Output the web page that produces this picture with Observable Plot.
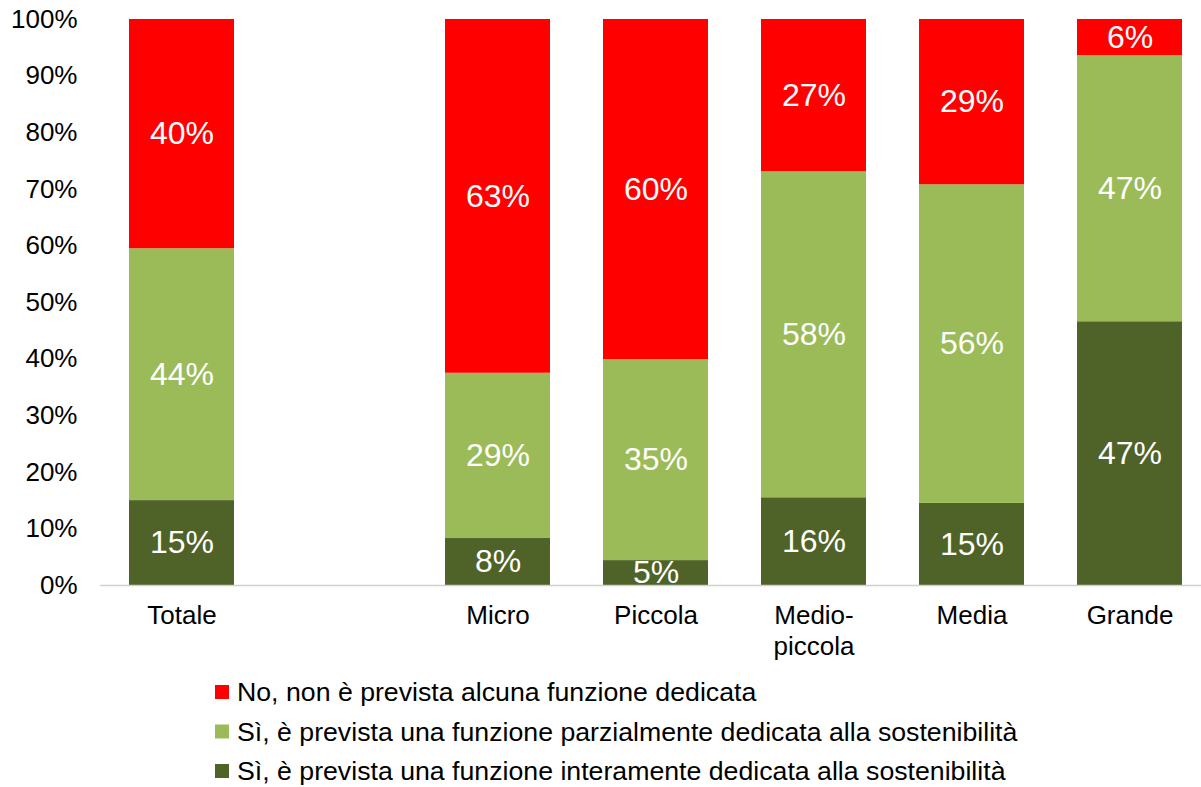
<!DOCTYPE html>
<html>
<head>
<meta charset="utf-8">
<script src="https://cdn.jsdelivr.net/npm/d3@7"></script>
<script src="https://cdn.jsdelivr.net/npm/@observablehq/plot@0.6"></script>
<style>
  html, body { margin: 0; padding: 0; background: #fff; }
  body { width: 1201px; height: 787px; overflow: hidden; font-family: "Liberation Sans", Arial, sans-serif; }
  #chart svg { display: block; }
</style>
</head>
<body>
<div id="chart"></div>
<script>
const categories = ["Totale", "Micro", "Piccola", "Medio-piccola", "Media", "Grande"];
const gapSlot = " ";
const seriesNames = [
  "Sì, è prevista una funzione interamente dedicata alla sostenibilità",
  "Sì, è prevista una funzione parzialmente dedicata alla sostenibilità",
  "No, non è prevista alcuna funzione dedicata"
];
const seriesColors = ["#4F6228", "#9BBB59", "#FF0000"];
const darkValues = [15.0, 8.3, 4.4, 15.5, 14.5, 46.6];
const lightValues = [44.5, 29.2, 35.5, 57.6, 56.3, 47.0];
const redValues = [40.5, 62.5, 60.1, 26.9, 29.2, 6.4];
const darkLabels = [15, 8, 5, 16, 15, 47];
const lightLabels = [44, 29, 35, 58, 56, 47];
const redLabels = [40, 63, 60, 27, 29, 6];
const yTicks = [0, 10, 20, 30, 40, 50, 60, 70, 80, 90, 100];
const legendOrder = [2, 1, 0];

const seriesValues = [darkValues, lightValues, redValues];
const seriesLabels = [darkLabels, lightLabels, redLabels];
const data = [];
seriesNames.forEach((s, si) => {
  categories.forEach((c, ci) => {
    data.push({category: c, series: s, value: seriesValues[si][ci], label: seriesLabels[si][ci] + "%"});
  });
});

const font = '"Liberation Sans", Arial, sans-serif';
const xDomain = [categories[0], gapSlot, ...categories.slice(1)];

const chart = Plot.plot({
  width: 1201,
  height: 665,
  marginTop: 19,
  marginBottom: 80,
  marginLeft: 100,
  marginRight: 0,
  style: {fontFamily: font, fontSize: "26px", color: "#000", background: "#fff"},
  x: {domain: xDomain, range: [100, 1211], paddingInner: 0.335, paddingOuter: 0.1675, label: null},
  y: {domain: [0, 100], range: [585, 19], label: null},
  color: {domain: seriesNames, range: seriesColors},
  marks: [
    Plot.barY(data, Plot.stackY({x: "category", y: "value", fill: "series", order: seriesNames})),
    Plot.ruleY([0], {stroke: "#d0d0d0", strokeWidth: 1.5}),
    Plot.axisY({ticks: yTicks, tickSize: 0, tickPadding: 23, tickFormat: d => d + "%", fill: "#000", fontSize: 26, line: true, stroke: "#d0d0d0"}),
    Plot.axisX({tickSize: 0, tickPadding: 16, fontSize: 26, fill: "#000", lineHeight: 1.2,
      tickFormat: d => d === "Medio-piccola" ? "Medio-\npiccola" : d}),
    Plot.text(data, Plot.stackY({x: "category", y: "value", z: "series", order: seriesNames, text: "label", fill: "#fff", fontSize: 32}))
  ]
});
document.getElementById("chart").appendChild(chart);

// legend
const legend = d3.select("#chart").append("svg")
  .attr("width", 1201).attr("height", 122)
  .attr("font-family", font);
legendOrder.forEach((si, i) => {
  const cy = 27 + i * 39.5;
  legend.append("rect").attr("x", 215).attr("y", cy - 7).attr("width", 14).attr("height", 14).attr("fill", seriesColors[si]);
  legend.append("text").attr("x", 237).attr("y", cy).attr("dy", "0.35em").attr("font-size", 26.7).attr("fill", "#000").text(seriesNames[si]);
});
</script>
</body>
</html>
